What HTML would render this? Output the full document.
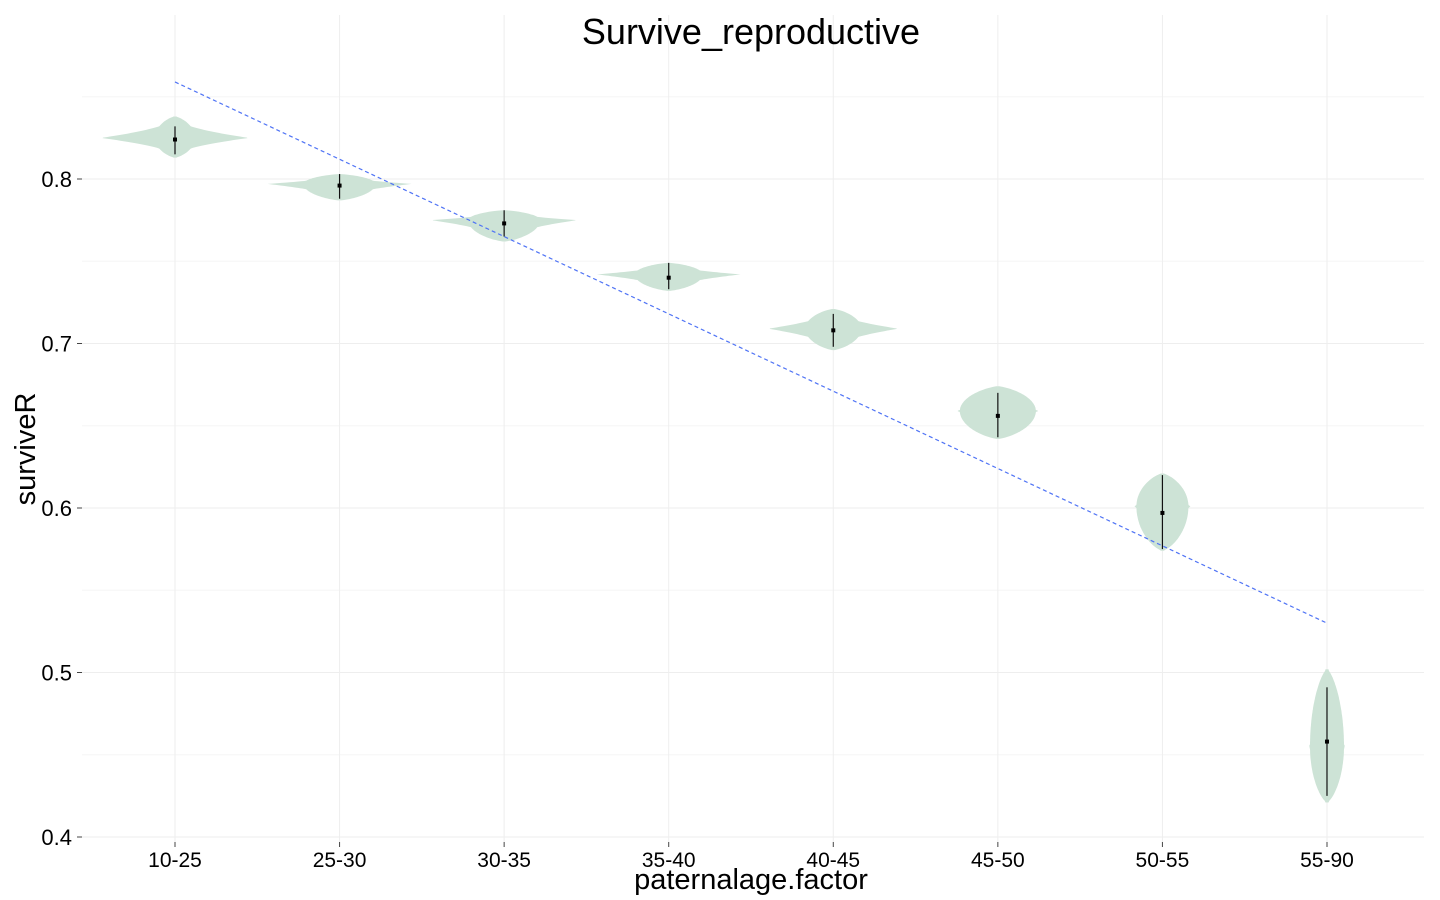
<!DOCTYPE html>
<html><head><meta charset="utf-8"><style>
body{margin:0;background:#fff;font-family:"Liberation Sans",sans-serif}
svg{display:block}
</style></head><body>
<svg id="chart" width="1440" height="900">
<rect width="1440" height="900" fill="#fff"/>
<g id="grid"></g><g id="violins"></g><g id="trend"></g><g id="axes"></g>
<text x="751" y="44" font-size="36" text-anchor="middle" fill="#000">Survive_reproductive</text>
<text x="751" y="889" font-size="29" text-anchor="middle" fill="#000">paternalage.factor</text>
<text transform="translate(35,449) rotate(-90)" font-size="29" text-anchor="middle" fill="#000">surviveR</text>
</svg>
<script>
const categories=["10-25","25-30","30-35","35-40","40-45","45-50","50-55","55-90"];
const vMin=[0.813,0.787,0.762,0.732,0.696,0.642,0.574,0.421];
const vMax=[0.838,0.803,0.781,0.749,0.721,0.674,0.621,0.502];
const vMode=[0.825,0.797,0.775,0.742,0.709,0.659,0.601,0.455];
const vWidth=[74,72,73,72,65,41,28,18];
const vBody=[20,36,36,34,28,38,26,17];
const medians=[0.824,0.796,0.773,0.740,0.708,0.656,0.597,0.458];
const whiskLo=[0.815,0.788,0.765,0.733,0.698,0.643,0.575,0.425];
const whiskHi=[0.832,0.803,0.781,0.749,0.718,0.670,0.620,0.491];
const trendStart=0.859, trendEnd=0.530;
const yTicks=[0.4,0.5,0.6,0.7,0.8];
const yMinor=[0.45,0.55,0.65,0.75,0.85];

const NS="http://www.w3.org/2000/svg";
const X0=175, XS=164.57;
const xS=i=>X0+i*XS;
const yS=v=>179+(0.8-v)*1645;
function mk(tag,attrs,parent){const e=document.createElementNS(NS,tag);for(const k in attrs)e.setAttribute(k,attrs[k]);parent.appendChild(e);return e;}
const grid=document.getElementById('grid'),vg=document.getElementById('violins'),tg=document.getElementById('trend'),ax=document.getElementById('axes');
yMinor.forEach(v=>{const l=mk('line',{x1:82,x2:1424,y1:yS(v),y2:yS(v),stroke:'#f6f6f6','stroke-width':1},grid);

});
yTicks.forEach(v=>{const l=mk('line',{x1:82,x2:1424,y1:yS(v),y2:yS(v),stroke:'#eeeeee','stroke-width':1},grid);


const t=mk('text',{x:72,y:yS(v)+8,'font-size':22,'text-anchor':'end',fill:'#000'},ax);t.textContent=v.toFixed(1);


const tk=mk('line',{x1:77,x2:82,y1:yS(v),y2:yS(v),stroke:'#444'},ax);

});
categories.forEach((c,i)=>{const x=xS(i);
const l=mk('line',{x1:x,x2:x,y1:15,y2:842,stroke:'#eeeeee'},grid);


const tk=mk('line',{x1:x,x2:x,y1:842,y2:847,stroke:'#444'},ax);


const t=mk('text',{x:x,y:867,'font-size':21,'text-anchor':'middle',fill:'#000'},ax);t.textContent=c;


const N=80,pts=[],back=[];
for(let k=0;k<=N;k++){const v=vMin[i]+(vMax[i]-vMin[i])*k/N;
let t2=v<vMode[i]?(vMode[i]-v)/(vMode[i]-vMin[i]):(v-vMode[i])/(vMax[i]-vMode[i]);
t2=Math.min(1,Math.max(0,t2));
let w=Math.max(vWidth[i]*Math.pow(1-t2,2),vBody[i]*Math.pow(1-Math.pow(t2,2),0.7));
w=Math.max(w,1.5);
pts.push((x+w).toFixed(1)+','+yS(v).toFixed(1));back.unshift((x-w).toFixed(1)+','+yS(v).toFixed(1));}
const p=mk('polygon',{points:pts.concat(back).join(' '),fill:'#cde3d6'},vg);


const wl=mk('line',{x1:x,x2:x,y1:yS(whiskHi[i]),y2:yS(whiskLo[i]),stroke:'#111','stroke-width':1.2},vg);


const m=mk('rect',{x:x-2,y:yS(medians[i])-2,width:4,height:4,fill:'#000'},vg);

});
const tl=mk('line',{x1:xS(0),x2:xS(7),y1:yS(trendStart),y2:yS(trendEnd),stroke:'#4f73f5','stroke-width':1.2,'stroke-dasharray':'4,3'},tg);


</script>
</body></html>
